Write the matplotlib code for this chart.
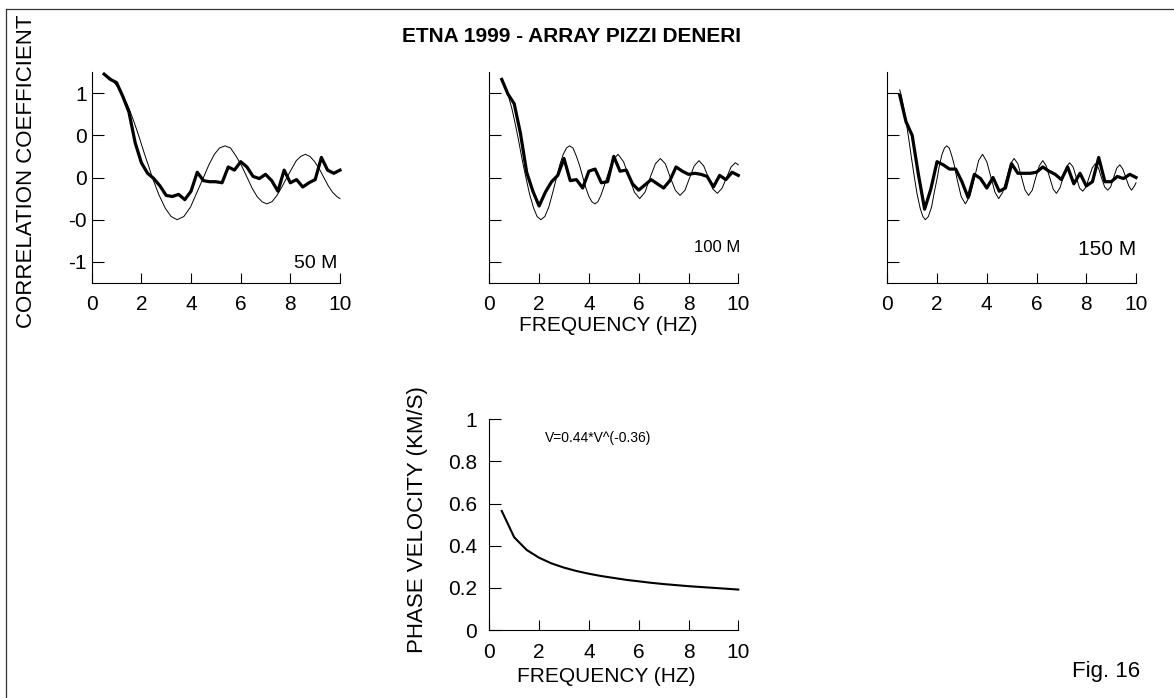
import numpy as np
import matplotlib
matplotlib.use('Agg')
import matplotlib.pyplot as plt
from matplotlib.lines import Line2D

plt.rcParams['font.family'] = ['Liberation Sans', 'DejaVu Sans']

# measured correlation (thick), sampled every 0.25 Hz
freq = np.arange(0.5, 10.01, 0.25)
corr_50 = [0.98, 0.93, 0.90, 0.77, 0.62, 0.33, 0.14, 0.04, -0.01, -0.08,
           -0.17, -0.18, -0.16, -0.21, -0.13, 0.05, -0.03, -0.04, -0.04, -0.05,
           0.10, 0.07, 0.15, 0.10, 0.01, -0.01, 0.03, -0.03, -0.13, 0.07,
           -0.05, -0.02, -0.09, -0.05, -0.02, 0.19, 0.07, 0.04, 0.07]
corr_100 = [0.93, 0.79, 0.70, 0.42, 0.05, -0.13, -0.27, -0.14, -0.04, 0.02,
            0.18, -0.03, -0.02, -0.10, 0.06, 0.08, -0.05, -0.04, 0.20, 0.06,
            0.07, -0.06, -0.12, -0.07, -0.02, -0.06, -0.10, -0.03, 0.10, 0.06,
            0.03, 0.04, 0.03, 0.01, -0.09, 0.02, -0.02, 0.05, 0.02]
corr_150 = [0.78, 0.53, 0.40, 0.03, -0.30, -0.11, 0.15, 0.12, 0.08, 0.08,
            -0.04, -0.19, 0.03, -0.01, -0.10, 0.00, -0.13, -0.10, 0.13, 0.04,
            0.04, 0.04, 0.05, 0.10, 0.06, 0.03, -0.02, 0.10, -0.06, 0.04,
            -0.08, -0.04, 0.19, -0.04, -0.04, 0.01, -0.01, 0.03, 0.00]

# model curves (thin)
fm_50 = [0.50, 0.77, 1.04, 1.28, 1.51, 1.73, 1.93, 2.13, 2.29, 2.44,
         2.70, 2.96, 3.20, 3.44, 3.71, 3.98, 4.24, 4.50,
         4.72, 4.94, 5.15, 5.37, 5.59, 5.82, 6.04, 6.26,
         6.46, 6.66, 6.86, 7.05, 7.26, 7.46, 7.66, 7.86,
         8.05, 8.24, 8.42, 8.60, 8.79, 8.98, 9.17, 9.35,
         9.53, 9.70, 9.87, 10.0]
model_50 = [0.98, 0.94, 0.86, 0.77, 0.65, 0.51, 0.37, 0.22, 0.11, 0.00,
            -0.16, -0.29, -0.37, -0.40, -0.37, -0.28, -0.14, 0.00,
            0.12, 0.22, 0.28, 0.30, 0.28, 0.20, 0.11, 0.00,
            -0.10, -0.18, -0.23, -0.25, -0.23, -0.17, -0.09, 0.00,
            0.08, 0.16, 0.20, 0.22, 0.20, 0.15, 0.08, 0.00,
            -0.08, -0.14, -0.18, -0.20]

fm_100 = [0.50, 0.62, 0.77, 0.91, 1.04, 1.16, 1.28, 1.37, 1.47,
          1.62, 1.78, 1.92, 2.07, 2.23, 2.39, 2.55, 2.70,
          2.83, 2.97, 3.10, 3.22, 3.36, 3.50, 3.63, 3.76,
          3.88, 4.00, 4.12, 4.24, 4.36, 4.48, 4.60, 4.72,
          4.95, 5.17, 5.39, 5.62, 5.83, 6.04, 6.25, 6.46,
          6.67, 6.87, 7.07, 7.27, 7.47, 7.66, 7.86, 8.05,
          8.23, 8.42, 8.61, 8.80, 8.98, 9.16, 9.35, 9.53,
          9.71, 9.88, 10.0]
model_100 = [0.92, 0.86, 0.77, 0.65, 0.51, 0.37, 0.22, 0.11, 0.00,
             -0.16, -0.29, -0.37, -0.40, -0.37, -0.28, -0.14, 0.00,
             0.12, 0.22, 0.28, 0.30, 0.28, 0.20, 0.11, 0.00,
             -0.10, -0.18, -0.23, -0.25, -0.23, -0.17, -0.09, 0.00,
             0.16, 0.22, 0.15, 0.00, -0.14, -0.20, -0.14, 0.00,
             0.13, 0.18, 0.13, 0.00, -0.12, -0.17, -0.12, 0.00,
             0.11, 0.16, 0.11, 0.00, -0.11, -0.15, -0.10, 0.00,
             0.10, 0.14, 0.12]

fm_150 = [0.50, 0.57, 0.67, 0.77, 0.86, 0.95, 1.02, 1.09, 1.20, 1.32,
          1.43, 1.53, 1.65, 1.78, 1.89, 2.01, 2.10, 2.20, 2.30, 2.39,
          2.49, 2.60, 2.70, 2.79, 2.97, 3.14, 3.33, 3.51, 3.67, 3.83,
          4.00, 4.17, 4.33, 4.48, 4.64, 4.80, 4.95, 5.10, 5.25, 5.40,
          5.54, 5.68, 5.83, 5.97, 6.11, 6.25, 6.39, 6.53, 6.67, 6.80,
          6.94, 7.07, 7.20, 7.33, 7.47, 7.60, 7.73, 7.86, 7.99, 8.11,
          8.24, 8.36, 8.49, 8.61, 8.74, 8.86, 8.98, 9.10, 9.23, 9.35,
          9.47, 9.59, 9.71, 9.82, 9.94, 10.0]
model_150 = [0.83, 0.77, 0.65, 0.51, 0.37, 0.22, 0.11, 0.00, -0.16, -0.29,
             -0.37, -0.40, -0.37, -0.28, -0.14, 0.00, 0.12, 0.22, 0.28, 0.30,
             0.28, 0.20, 0.11, 0.00, -0.18, -0.25, -0.17, 0.00, 0.16, 0.22,
             0.15, 0.00, -0.14, -0.20, -0.14, 0.00, 0.13, 0.18, 0.13, 0.00,
             -0.12, -0.17, -0.12, 0.00, 0.11, 0.16, 0.11, 0.00, -0.11, -0.15,
             -0.10, 0.00, 0.10, 0.14, 0.10, 0.00, -0.10, -0.13, -0.09, 0.00,
             0.09, 0.13, 0.09, 0.00, -0.09, -0.12, -0.09, 0.00, 0.09, 0.12,
             0.08, 0.00, -0.08, -0.12, -0.08, -0.05]

# phase velocity
fv = [0.5, 1.0, 1.5, 2.0, 2.5, 3.0, 3.5, 4.0, 4.5, 5.0,
      5.5, 6.0, 6.5, 7.0, 7.5, 8.0, 8.5, 9.0, 9.5, 10.0]
velocity = [0.565, 0.440, 0.380, 0.343, 0.316, 0.296, 0.280, 0.267, 0.256, 0.247,
            0.238, 0.231, 0.224, 0.218, 0.213, 0.208, 0.204, 0.200, 0.196, 0.192]

xticks = [0, 2, 4, 6, 8, 10]
corr_ticks = [-0.8, -0.4, 0, 0.4, 0.8]
corr_ticklabels = ['-1', '-0', '0', '0', '1']
vel_ticks = [0, 0.2, 0.4, 0.6, 0.8, 1]
vel_ticklabels = ['0', '0.2', '0.4', '0.6', '0.8', '1']

W, H = 1174, 698
fig = plt.figure(figsize=(W / 100, H / 100), dpi=100)


def box(l, t, r, b):
    return [l / W, 1 - b / H, (r - l) / W, (b - t) / H]


def style(ax, ypad):
    for s in ['top', 'right']:
        ax.spines[s].set_visible(False)
    for s in ['left', 'bottom']:
        ax.spines[s].set_linewidth(0.8)
    ax.tick_params(axis='x', direction='in', length=7.2, width=0.8, labelsize=15, pad=9)
    ax.tick_params(axis='y', direction='in', length=8.6, width=0.8, labelsize=15, pad=ypad)
    ax.set_xlim(0, 10)
    ax.set_xticks(xticks)


panels = [
    (box(91.7, 72, 340, 283), corr_50, fm_50, model_50, '50 M', 14, (9.88, -0.856)),
    (box(489.3, 72, 738.3, 283), corr_100, fm_100, model_100, '100 M', 12, (10.07, -0.71)),
    (box(887.3, 72, 1136, 283), corr_150, fm_150, model_150, '150 M', 15, (10.0, -0.73)),
]
for i, (pos, corr, fm, mod, lab, lsize, lxy) in enumerate(panels):
    ax = fig.add_axes(pos)
    style(ax, 3.6)
    ax.set_ylim(-1, 1)
    ax.set_yticks(corr_ticks)
    if i == 0:
        ax.set_yticklabels(corr_ticklabels)
    else:
        ax.set_yticklabels([])
    ax.plot(fm, mod, color='black', lw=0.7, clip_on=False)
    ax.plot(freq, corr, color='black', lw=2.3, solid_joinstyle='round', clip_on=False)
    ax.text(lxy[0], lxy[1], lab, fontsize=lsize, ha='right', va='baseline')

axv = fig.add_axes(box(489.3, 419.3, 738.3, 630))
style(axv, 8.6)
axv.set_ylim(0, 1)
axv.set_yticks(vel_ticks)
axv.set_yticklabels(vel_ticklabels)
axv.plot(fv, velocity, color='black', lw=1.5, clip_on=False)
axv.text(2.24, 0.894, 'V=0.44*V^(-0.36)', fontsize=10, ha='left', va='baseline')

fig.text(571 / W, 1 - 36 / H, 'ETNA 1999 - ARRAY PIZZI DENERI', fontsize=15,
         fontweight='bold', ha='center', va='center')
fig.text(27 / W, 1 - 171 / H, 'CORRELATION COEFFICIENT', fontsize=16,
         rotation=90, ha='center', va='center')
fig.text(608 / W, 1 - 325 / H, 'FREQUENCY (HZ)', fontsize=15, ha='center', va='center')
fig.text(418 / W, 1 - 520 / H, 'PHASE VELOCITY (KM/S)', fontsize=16,
         rotation=90, ha='center', va='center')
fig.text(606 / W, 1 - 676 / H, 'FREQUENCY (HZ)', fontsize=15, ha='center', va='center')
fig.text(1140 / W, 1 - 677 / H, 'Fig. 16', fontsize=16, ha='right', va='baseline')

# page frame (top and left edges)
fig.add_artist(Line2D([6 / W, 6 / W], [0, 1 - 9 / H], color='#333333', lw=0.9))
fig.add_artist(Line2D([6 / W, 1], [1 - 9 / H, 1 - 9 / H], color='#333333', lw=0.9))

fig.savefig('out.png', dpi=100)
